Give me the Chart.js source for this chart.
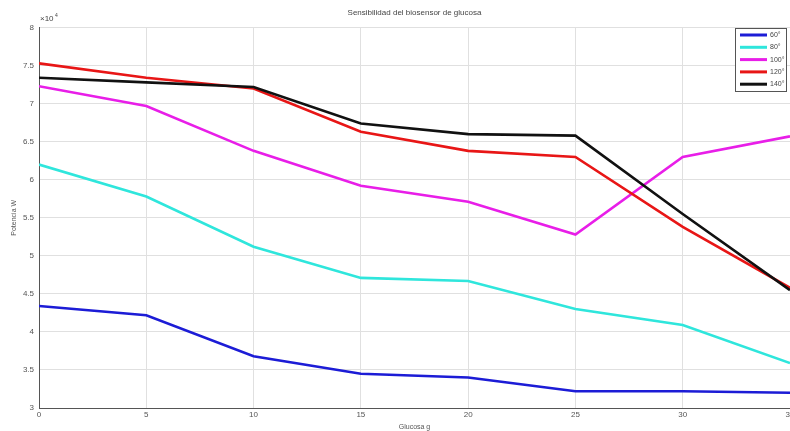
<!DOCTYPE html>
<html>
<head>
<meta charset="utf-8">
<script src="https://cdn.jsdelivr.net/npm/chart.js@4"></script>
<style>
  html, body { margin: 0; padding: 0; background: #fff; }
  #wrap { width: 790px; height: 431px; }
</style>
</head>
<body>
<div id="wrap"><canvas id="chart"></canvas></div>
<script>
const glucosa = [0, 5, 10, 15, 20, 25, 30, 35];
const temps = ["60°", "80°", "100°", "120°", "140°"];
const colors = ["#1c1cd6", "#2fe6dc", "#e81ee8", "#e81616", "#111111"];

// values in units of 10^4
const s60 = [4.34, 4.22, 3.68, 3.45, 3.40, 3.22, 3.22, 3.20];
const s80 = [6.20, 5.78, 5.12, 4.71, 4.67, 4.30, 4.09, 3.59];
const s100 = [7.23, 6.97, 6.38, 5.92, 5.71, 5.28, 6.30, 6.57];
const s120 = [7.53, 7.34, 7.20, 6.63, 6.38, 6.30, 5.38, 4.58];
const s140 = [7.34, 7.28, 7.22, 6.74, 6.60, 6.58, 5.55, 4.55];

const series = [s60, s80, s100, s120, s140];
const font = "Liberation Sans";

// legend box in the top right corner of the plot
const boxLegend = {
  id: "boxLegend",
  afterDraw(chart) {
    const ctx = chart.ctx;
    const x = 735, y = 28, w = 51, h = 63;
    ctx.save();
    ctx.fillStyle = "#fff";
    ctx.fillRect(x, y, w, h);
    ctx.strokeStyle = "#555";
    ctx.lineWidth = 1;
    ctx.strokeRect(x + 0.5, y + 0.5, w, h);
    ctx.font = "7px " + font;
    ctx.textBaseline = "middle";
    chart.data.datasets.forEach((ds, i) => {
      const ly = y + 7 + i * 12.3;
      ctx.strokeStyle = ds.borderColor;
      ctx.lineWidth = 3;
      ctx.beginPath();
      ctx.moveTo(x + 5, ly);
      ctx.lineTo(x + 32, ly);
      ctx.stroke();
      ctx.fillStyle = "#444";
      ctx.fillText(ds.label, x + 35, ly);
    });
    ctx.restore();
  }
};

// "x10^4" multiplier above the y axis
const exponent = {
  id: "exponent",
  afterDraw(chart) {
    const ctx = chart.ctx;
    const a = chart.chartArea;
    ctx.save();
    ctx.fillStyle = "#444";
    ctx.font = "8px " + font;
    ctx.textBaseline = "alphabetic";
    ctx.fillText("×10", a.left + 1, a.top - 7);
    ctx.font = "5px " + font;
    ctx.fillText("4", a.left + 16, a.top - 11);
    ctx.restore();
  }
};

new Chart(document.getElementById("chart"), {
  type: "line",
  data: {
    datasets: series.map((vals, i) => ({
      label: temps[i],
      data: vals.map((v, j) => ({ x: glucosa[j], y: v })),
      borderColor: colors[i],
      backgroundColor: colors[i],
      borderWidth: 2.6,
      pointRadius: 0,
      tension: 0,
      order: series.length - i
    }))
  },
  options: {
    responsive: true,
    maintainAspectRatio: false,
    animation: false,
    layout: { padding: { left: 0, right: 0, top: 0, bottom: 0 } },
    plugins: {
      legend: { display: false },
      tooltip: { enabled: false },
      title: {
        display: true,
        text: "Sensibilidad del biosensor de glucosa",
        fullSize: false,
        color: "#444",
        font: { family: font, size: 8, weight: "normal" },
        padding: { top: 8, bottom: 10 }
      }
    },
    scales: {
      x: {
        type: "linear",
        min: 0,
        max: 35,
        ticks: {
          stepSize: 5,
          color: "#555",
          font: { family: font, size: 8 },
          padding: 2,
          maxRotation: 0
        },
        grid: { color: "#e0e0e0", drawTicks: false },
        border: { color: "#555" },
        title: {
          display: true,
          text: "Glucosa g",
          color: "#555",
          font: { family: font, size: 7 },
          padding: 0
        },
        afterFit(scale) {
          scale.height = 23;
          scale.paddingRight = 0;
          scale.paddingLeft = 0;
        }
      },
      y: {
        min: 3,
        max: 8,
        ticks: {
          stepSize: 0.5,
          color: "#555",
          font: { family: font, size: 8 },
          padding: 5,
          callback: v => String(v)
        },
        grid: { color: "#e0e0e0", drawTicks: false },
        border: { color: "#555" },
        title: {
          display: true,
          text: "Potencia W",
          color: "#555",
          font: { family: font, size: 7 },
          padding: { top: 10, bottom: 0 }
        },
        afterFit(scale) {
          scale.width = 39;
        }
      }
    }
  },
  plugins: [boxLegend, exponent]
});
</script>
</body>
</html>
